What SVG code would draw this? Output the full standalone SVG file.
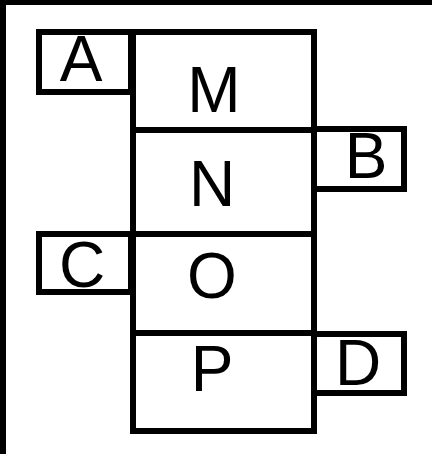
<svg xmlns="http://www.w3.org/2000/svg" width="432" height="454" viewBox="0 0 432 454">
<style>
.box{fill:none;stroke:#000;stroke-width:6;stroke-linejoin:miter}
.lbl{font-family:"Liberation Sans",Arial,sans-serif;font-size:64px;fill:#000;text-anchor:middle}
</style>
<rect x="0" y="0" width="432" height="454" fill="#fff"/>
<rect x="0" y="0" width="432" height="5" fill="#000"/>
<rect x="0" y="0" width="6" height="454" fill="#000"/>
<g id="node-M"><rect class="box" x="133" y="32" width="181" height="98"/><text class="lbl" x="214" y="112">M</text></g>
<g id="node-N"><rect class="box" x="133" y="130" width="181" height="104"/><text class="lbl" x="212" y="206">N</text></g>
<g id="node-O"><rect class="box" x="133" y="234" width="181" height="99"/><text class="lbl" x="212" y="298">O</text></g>
<g id="node-P"><rect class="box" x="133" y="333" width="181" height="98"/><text class="lbl" x="212" y="391">P</text></g>
<g id="node-A"><rect class="box" x="39" y="32" width="92" height="60"/><text class="lbl" x="81" y="81">A</text></g>
<g id="node-B"><rect class="box" x="314" y="129" width="90" height="60"/><text class="lbl" x="366" y="178">B</text></g>
<g id="node-C"><rect class="box" x="39" y="234" width="92" height="58"/><text class="lbl" x="82" y="287">C</text></g>
<g id="node-D"><rect class="box" x="314" y="334" width="90" height="59"/><text class="lbl" x="358" y="385">D</text></g>
<g id="connectors"></g>
</svg>
